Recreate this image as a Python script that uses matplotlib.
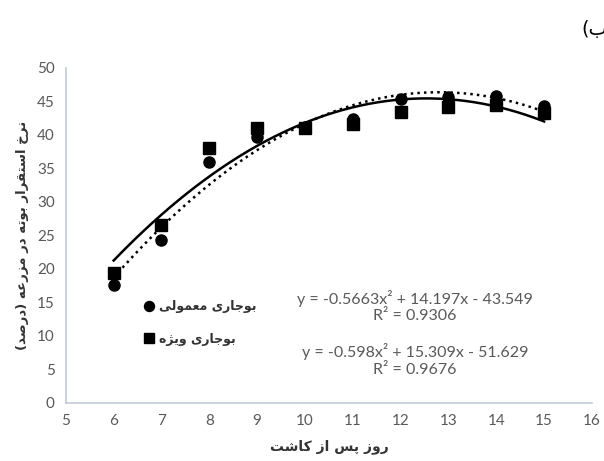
import matplotlib
matplotlib.use("Agg")
import matplotlib.pyplot as plt
import numpy as np

# data
days = [6, 7, 8, 9, 10, 11, 12, 13, 14, 15]
normal = [17.6, 24.3, 36.0, 39.7, 41.1, 42.3, 45.3, 45.6, 45.8, 44.3]
special = [19.4, 26.6, 38.1, 41.0, 41.0, 41.6, 43.4, 44.2, 44.4, 43.3]
# trendline coefficients as printed on the chart
coef_normal = [-0.5663, 14.197, -43.549]
coef_special = [-0.598, 15.309, -51.629]
eq_normal = "y = -0.5663x² + 14.197x - 43.549\nR² = 0.9306"
eq_special = "y = -0.598x² + 15.309x - 51.629\nR² = 0.9676"

lbl_normal = "بوجاری معمولی"
lbl_special = "بوجاری ویژه"
xlabel = "روز پس از کاشت"
ylabel = "نرخ استقرار بوته در مزرعه (درصد)"
corner = "(ب)"

# minimal arabic/persian shaping (matplotlib has no text shaping)
FORMS = {
    'ا': (0xFE8D, 0xFE8E, None, None),
    'ب': (0xFE8F, 0xFE90, 0xFE91, 0xFE92),
    'ت': (0xFE95, 0xFE96, 0xFE97, 0xFE98),
    'ج': (0xFE9D, 0xFE9E, 0xFE9F, 0xFEA0),
    'خ': (0xFEA5, 0xFEA6, 0xFEA7, 0xFEA8),
    'د': (0xFEA9, 0xFEAA, None, None),
    'ر': (0xFEAD, 0xFEAE, None, None),
    'ز': (0xFEAF, 0xFEB0, None, None),
    'ژ': (0xFB8A, 0xFB8B, None, None),
    'س': (0xFEB1, 0xFEB2, 0xFEB3, 0xFEB4),
    'ش': (0xFEB5, 0xFEB6, 0xFEB7, 0xFEB8),
    'ص': (0xFEB9, 0xFEBA, 0xFEBB, 0xFEBC),
    'ع': (0xFEC9, 0xFECA, 0xFECB, 0xFECC),
    'ق': (0xFED5, 0xFED6, 0xFED7, 0xFED8),
    'ل': (0xFEDD, 0xFEDE, 0xFEDF, 0xFEE0),
    'م': (0xFEE1, 0xFEE2, 0xFEE3, 0xFEE4),
    'ن': (0xFEE5, 0xFEE6, 0xFEE7, 0xFEE8),
    'ه': (0xFEE9, 0xFEEA, 0xFEEB, 0xFEEC),
    'و': (0xFEED, 0xFEEE, None, None),
    'پ': (0xFB56, 0xFB57, 0xFB58, 0xFB59),
    'ک': (0xFB8E, 0xFB8F, 0xFB90, 0xFB91),
    'ی': (0xFBFC, 0xFBFD, 0xFBFE, 0xFBFF),
}


def shape(s):
    out = []
    for i, c in enumerate(s):
        if c not in FORMS:
            out.append(c)
            continue
        prev = s[i - 1] if i > 0 else ''
        nxt = s[i + 1] if i + 1 < len(s) else ''
        join_prev = prev in FORMS and FORMS[prev][2] is not None
        join_next = nxt in FORMS and FORMS[c][2] is not None
        iso, fin, ini, med = FORMS[c]
        if join_prev and join_next:
            code = med
        elif join_prev:
            code = fin
        elif join_next:
            code = ini
        else:
            code = iso
        out.append(chr(code))
    vis = ''.join(reversed(out))
    return vis.translate(str.maketrans('()', ')('))


fa = ['DejaVu Sans']
num_font = ['Lato', 'DejaVu Sans']
gray = '#595959'

fig = plt.figure(figsize=(6.04, 4.61), dpi=100)
ax = fig.add_axes([0.109, 0.126, 0.871, 0.727])

ax.plot(days, normal, 'o', color='black', ms=8, label=shape(lbl_normal))
ax.plot(days, special, 's', color='black', ms=8, label=shape(lbl_special))

xs = np.linspace(days[0], days[-1], 200)
ax.plot(xs, np.polyval(coef_normal, xs), '-', color='black', lw=1.8)
ax.plot(xs, np.polyval(coef_special, xs), ':', color='black', lw=1.8)

ax.set_xlim(5, 16)
ax.set_ylim(0, 50)
ax.set_xticks(range(5, 17))
ax.set_yticks(range(0, 51, 5))
ax.tick_params(length=0, labelsize=11, labelcolor=gray, pad=8)
for t in ax.get_xticklabels() + ax.get_yticklabels():
    t.set_family(num_font)
for side in ['top', 'right']:
    ax.spines[side].set_visible(False)
for side in ['left', 'bottom']:
    ax.spines[side].set_color('#c3cbd8')
    ax.spines[side].set_linewidth(1.2)

ax.set_xlabel(shape(xlabel), family=fa, fontsize=10, fontweight='bold', color='#333333', labelpad=8)
ax.set_ylabel(shape(ylabel), family=fa, fontsize=9.5, fontweight='bold', color='#333333', labelpad=6)

ax.text(12.3, 14.4, eq_normal, ha='center', va='center', fontsize=11.5,
        color=gray, family=num_font, linespacing=1.2)
ax.text(12.3, 6.4, eq_special, ha='center', va='center', fontsize=11.5,
        color=gray, family=num_font, linespacing=1.2)

leg = ax.legend(loc='upper left', bbox_to_anchor=(0.125, 0.34), frameon=False,
                prop={'family': fa, 'size': 9, 'weight': 'bold'},
                handletextpad=0.3, labelspacing=1.55, handlelength=1.0, markerscale=0.9)
for t in leg.get_texts():
    t.set_color('#333333')

fig.text(0.963, 0.935, shape(corner), family=fa, fontsize=14, ha='left', va='center', color='black')

fig.savefig('out.png', dpi=100)
